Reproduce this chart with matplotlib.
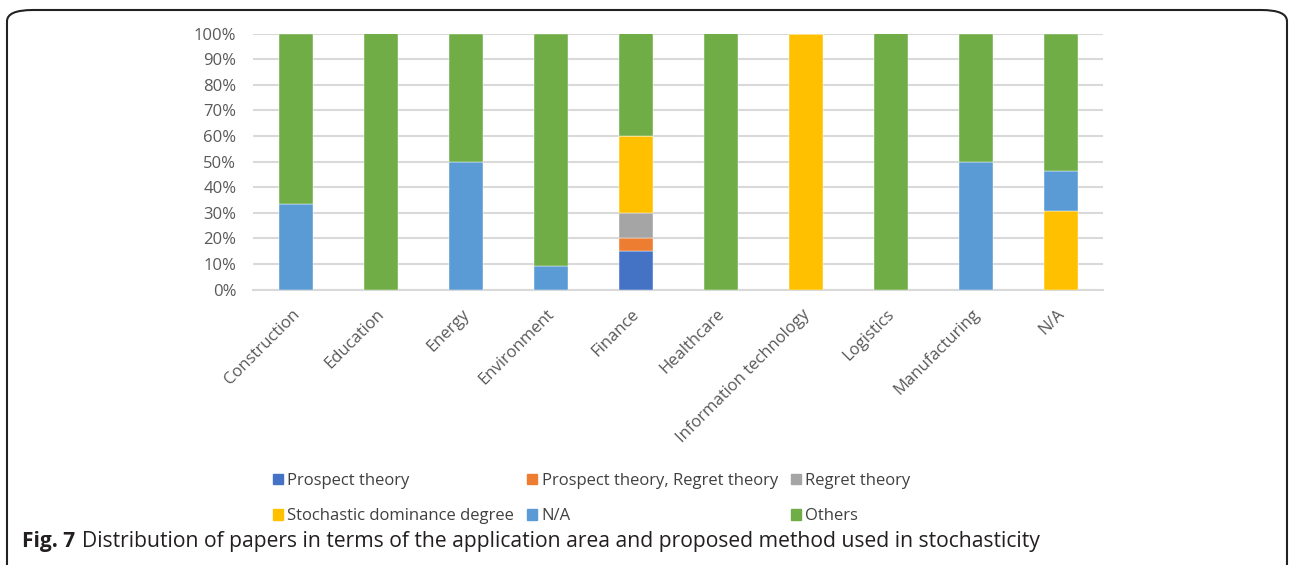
import matplotlib
matplotlib.use("Agg")
import matplotlib.pyplot as plt
from matplotlib.patches import FancyBboxPatch, Patch
from matplotlib.transforms import ScaledTranslation
import numpy as np

# application areas
areas = ["Construction", "Education", "Energy", "Environment", "Finance",
         "Healthcare", "Information technology", "Logistics", "Manufacturing", "N/A"]

# share of papers per method (%)
prospect = [0, 0, 0, 0, 15, 0, 0, 0, 0, 0]
prospect_regret = [0, 0, 0, 0, 5, 0, 0, 0, 0, 0]
regret = [0, 0, 0, 0, 10, 0, 0, 0, 0, 0]
stochastic = [0, 0, 0, 0, 30, 0, 100, 0, 0, 30.8]
not_avail = [33.3, 0, 50, 9.1, 0, 0, 0, 0, 50, 15.4]
others = [66.7, 100, 50, 90.9, 40, 100, 0, 100, 50, 53.8]

series_names = ["Prospect theory", "Prospect theory, Regret theory", "Regret theory",
                "Stochastic dominance degree", "N/A", "Others"]
series_vals = [prospect, prospect_regret, regret, stochastic, not_avail, others]
colors = ["#4472C4", "#ED7D31", "#A5A5A5", "#FFC000", "#5B9BD5", "#70AD47"]

plt.rcParams['font.family'] = ['Open Sans', 'DejaVu Sans']

fig = plt.figure(figsize=(12.9, 5.65), dpi=100)
ax = fig.add_axes([253 / 1290, 1 - 289.5 / 565, 850 / 1290, 256 / 565])

x = np.arange(len(areas))
bottom = np.zeros(len(areas))
for name, vals, c in zip(series_names, series_vals, colors):
    vals = np.array(vals, dtype=float)
    ax.bar(x, vals, 0.4, bottom=bottom, color=c, edgecolor='white', linewidth=0.3,
           label=name, zorder=3)
    bottom += vals

ax.set_xlim(-0.5, len(areas) - 0.5)
ax.set_ylim(0, 100)
ax.set_yticks(np.arange(0, 101, 10))
ax.set_yticklabels([f"{v}%" for v in range(0, 101, 10)])
ax.grid(axis='y', color='#D9D9D9', linewidth=1.5, zorder=0)
for s in ['top', 'right', 'left']:
    ax.spines[s].set_visible(False)
ax.spines['bottom'].set_color('#D9D9D9')
ax.spines['bottom'].set_linewidth(1.5)
ax.tick_params(axis='y', length=0, labelsize=12, colors='#595959', pad=12)
ax.tick_params(axis='x', length=0, labelsize=12, colors='#595959', pad=12)
ax.set_xticks(x)
ax.set_xticklabels(areas, rotation=45, ha='right', va='top', rotation_mode='anchor')
shift = ScaledTranslation(-4 / 100, 0, fig.dpi_scale_trans)
for lbl in ax.get_xticklabels():
    lbl.set_transform(lbl.get_transform() + shift)

# legend, row by row like the original
handles = [Patch(color=c) for c in colors]
order = [0, 3, 1, 4, 2, 5]
fig.legend([handles[i] for i in order], [series_names[i] for i in order],
           ncol=3, loc='center left', bbox_to_anchor=(258 / 1290, 1 - 498.5 / 565),
           frameon=False, fontsize=12, handlelength=0.6, handleheight=0.6,
           handletextpad=0.25, columnspacing=0.8, labelspacing=1.15,
           labelcolor='#404040')

# caption
fig.text(22 / 1290, 1 - 541 / 565, "Fig. 7", fontsize=15, fontweight='bold',
         va='center', ha='left', color='#231F20')
fig.text(82 / 1290, 1 - 541 / 565,
         "Distribution of papers in terms of the application area and proposed method used in stochasticity",
         fontsize=15.2, va='center', ha='left', color='#231F20')

# rounded frame
frame = FancyBboxPatch((7 / 1290, -0.2), 1280 / 1290, 1.2 - 10 / 565,
                       boxstyle="round,pad=0,rounding_size=0.02",
                       transform=fig.transFigure, fill=False, edgecolor='#222222',
                       linewidth=1.5, clip_on=False)
fig.patches.append(frame)

fig.savefig("out.png", dpi=100)
